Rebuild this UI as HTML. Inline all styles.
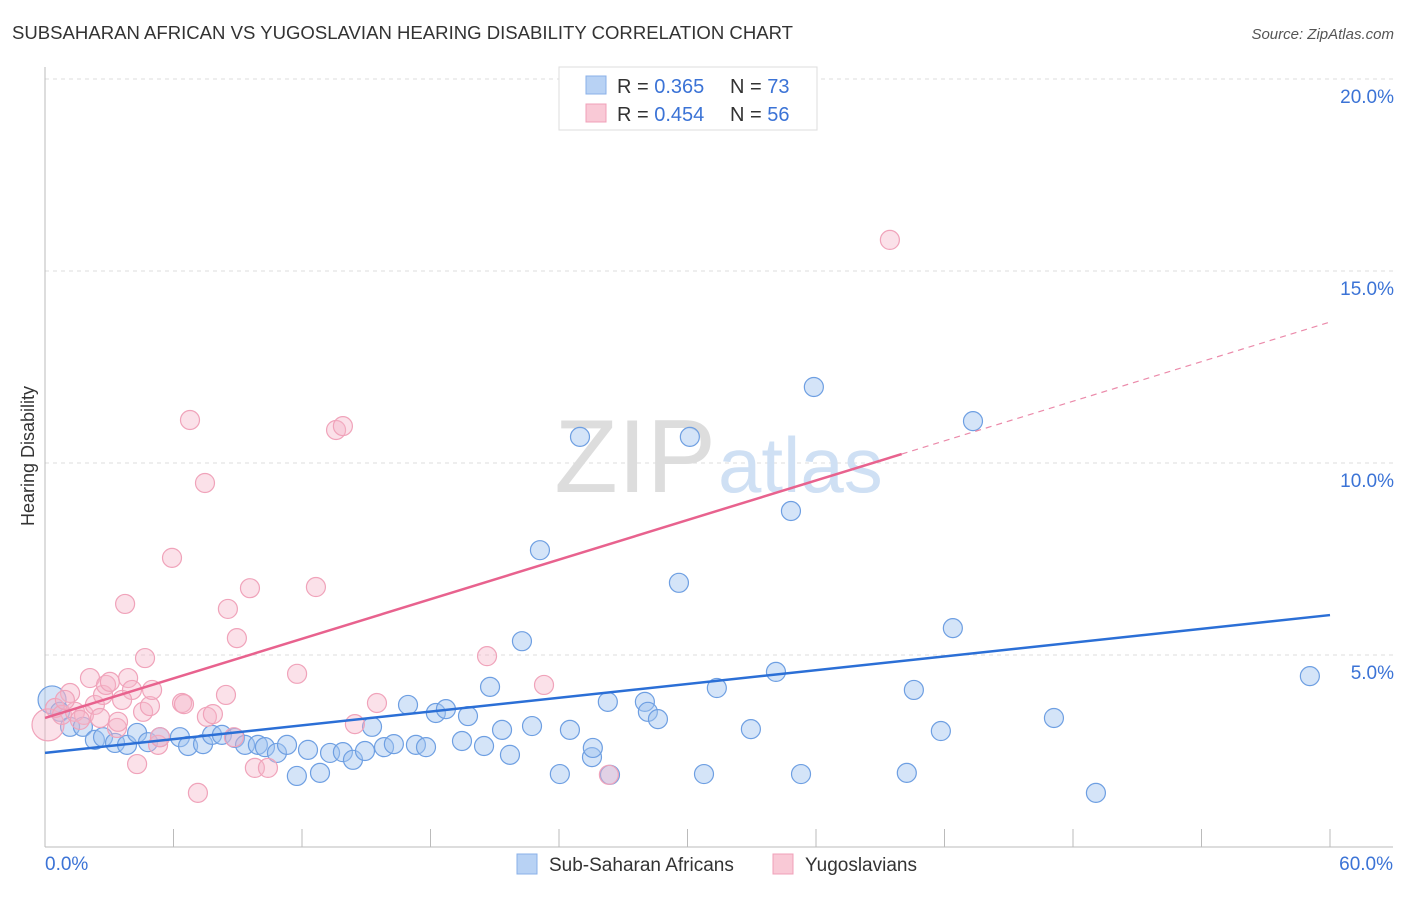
<!DOCTYPE html>
<html><head><meta charset="utf-8">
<style>
body{margin:0;background:#fff;font-family:"Liberation Sans",sans-serif;}
svg text{font-family:"Liberation Sans",sans-serif;}
</style></head>
<body>
<svg id="chart" width="1406" height="892" viewBox="0 0 1406 892" xmlns="http://www.w3.org/2000/svg">
<text x="12" y="39" font-size="18" fill="#333" textLength="781" lengthAdjust="spacingAndGlyphs">SUBSAHARAN AFRICAN VS YUGOSLAVIAN HEARING DISABILITY CORRELATION CHART</text>
<text x="1394" y="39" font-size="15" fill="#555" font-style="italic" text-anchor="end">Source: ZipAtlas.com</text>
<g id="grid"></g>
<text x="716" y="492" font-size="104" fill="#ddd" text-anchor="end" font-family="Liberation Serif,serif">ZIP</text>
<text x="718" y="492" font-size="78" fill="#cfe0f4">atlas</text>
<g id="pts"></g>
<g id="lines"></g>
<text transform="translate(34,456) rotate(-90)" font-size="18" fill="#333" text-anchor="middle">Hearing Disability</text>
<g>
<rect x="559" y="67" width="258" height="63" fill="#fff" stroke="#ddd"/>
<rect x="586" y="76" width="20" height="18" fill="#b8d2f4" stroke="#8ab0e8"/>
<rect x="586" y="104" width="20" height="18" fill="#f9c9d6" stroke="#f0a0b8"/>
<text x="617" y="93" font-size="20" fill="#333">R = <tspan fill="#3b73d6">0.365</tspan><tspan x="730">N = </tspan><tspan fill="#3b73d6">73</tspan></text>
<text x="617" y="121" font-size="20" fill="#333">R = <tspan fill="#3b73d6">0.454</tspan><tspan x="730">N = </tspan><tspan fill="#3b73d6">56</tspan></text>
</g>
<g>
<rect x="517" y="854" width="20" height="20" fill="#b8d2f4" stroke="#8ab0e8"/>
<text x="549" y="871" font-size="19" fill="#333">Sub-Saharan Africans</text>
<rect x="773" y="854" width="20" height="20" fill="#f9c9d6" stroke="#f0a0b8"/>
<text x="805" y="871" font-size="19" fill="#333">Yugoslavians</text>
</g>
</svg>
<script>
const xTicks=[0,6,12,18,24,30,36,42,48,54,60];
const yTicks=[5,10,15,20];
const yTickLabels=["5.0%","10.0%","15.0%","20.0%"];
const blueX=[0.33,0.7,1.17,1.77,2.33,2.71,3.27,3.83,4.30,4.81,5.37,6.30,6.68,7.38,7.80,8.26,8.87,9.34,9.94,10.27,10.83,11.30,11.76,12.28,12.84,13.31,13.91,14.38,14.94,15.27,15.83,16.29,16.95,17.32,17.79,18.25,18.72,19.47,19.75,20.50,20.78,21.34,21.71,22.27,22.74,23.11,24.04,24.51,24.98,25.54,25.58,26.28,26.38,28.01,28.15,28.62,29.60,30.11,30.77,31.37,32.96,34.13,34.83,35.30,35.90,40.24,40.57,41.83,42.39,43.33,47.11,49.07,59.06];
const blueY=[3.83,3.52,3.13,3.13,2.79,2.86,2.71,2.66,2.97,2.73,2.86,2.86,2.63,2.68,2.92,2.92,2.84,2.66,2.66,2.60,2.45,2.66,1.85,2.53,1.93,2.45,2.47,2.27,2.50,3.13,2.60,2.68,3.70,2.66,2.60,3.49,3.59,2.76,3.41,2.63,4.17,3.05,2.40,5.36,3.15,7.73,1.90,3.05,10.68,2.34,2.58,3.78,1.88,3.78,3.52,3.33,6.88,10.68,1.90,4.14,3.07,4.56,8.75,1.90,11.98,1.93,4.09,3.02,5.70,11.09,3.36,1.41,4.45];
const pinkX=[0.14,0.47,0.79,1.17,1.40,1.82,2.10,2.33,2.71,2.85,3.03,3.36,3.41,3.74,3.88,4.06,4.30,4.58,4.67,4.90,5.00,5.28,5.37,5.93,6.40,6.49,6.77,7.14,7.47,7.56,7.84,8.45,8.54,8.82,8.96,9.57,9.80,10.41,11.77,12.65,13.59,13.91,14.47,15.50,20.64,23.30,26.33,39.45,0.93,1.63,2.57,3.60];
const pinkY=[3.18,3.62,3.44,4.01,3.52,3.44,4.40,3.70,3.96,4.22,4.30,3.10,3.26,6.33,4.40,4.09,2.16,3.52,4.92,3.67,4.09,2.66,2.86,7.53,3.75,3.72,11.12,1.41,9.48,3.39,3.46,3.96,6.20,2.86,5.44,6.74,2.06,2.06,4.51,6.77,10.86,10.96,3.20,3.75,4.97,4.22,1.88,15.81,3.83,3.31,3.36,3.83];
const blueTrend=[2.45,6.04];
const pinkTrend=[3.36,13.67];
const pinkSolidEnd=40;

const NS="http://www.w3.org/2000/svg";
const sx=v=>45+v*(1330-45)/60;
const sy=v=>847-v*38.4;
function mk(tag,attrs,parent){const e=document.createElementNS(NS,tag);for(const k in attrs)e.setAttribute(k,attrs[k]);parent.appendChild(e);return e;}
const grid=document.getElementById('grid');
yTicks.forEach((t,i)=>{
  const l=mk('line',{x1:45,x2:1393,y1:sy(t),y2:sy(t),stroke:'#ddd','stroke-dasharray':'4,4'},grid);
  
  
  const tx=mk('text',{x:1394,y:sy(t)+24,'font-size':19,fill:'#3b73d6','text-anchor':'end'},grid);
  tx.textContent=yTickLabels[i];
  
  
});
const ax=mk('line',{x1:45,x2:45,y1:67,y2:847,stroke:'#bbb'},grid);


const bx=mk('line',{x1:45,x2:1393,y1:847,y2:847,stroke:'#bbb'},grid);


xTicks.forEach(t=>{
  const l=mk('line',{x1:sx(t),x2:sx(t),y1:829,y2:847,stroke:'#bbb'},grid);
  
  
});
const xl0=mk('text',{x:45,y:870,'font-size':19,fill:'#3b73d6'},grid);xl0.textContent=xTicks[0].toFixed(1)+'%';


const xl1=mk('text',{x:1393,y:870,'font-size':19,fill:'#3b73d6','text-anchor':'end'},grid);xl1.textContent=xTicks[xTicks.length-1].toFixed(1)+'%';



const pts=document.getElementById('pts');
blueX.forEach((x,i)=>{
  const c=mk('circle',{cx:sx(x),cy:sy(blueY[i]),r:i===0?14:9.5,fill:'rgba(160,195,240,0.45)',stroke:'#6e9fe2','stroke-width':1.2},pts);
  
  
});
pinkX.forEach((x,i)=>{
  const c=mk('circle',{cx:sx(x),cy:sy(pinkY[i]),r:i===0?16:9.5,fill:'rgba(245,180,200,0.4)',stroke:'#f0a3ba','stroke-width':1.2},pts);
  
  
});
const lines=document.getElementById('lines');
const bl=mk('line',{x1:sx(0),y1:sy(blueTrend[0]),x2:sx(60),y2:sy(blueTrend[1]),stroke:'#2b6fd6','stroke-width':2.5},lines);


const pm=pinkTrend[0]+(pinkTrend[1]-pinkTrend[0])*pinkSolidEnd/60;
const pl=mk('line',{x1:sx(0),y1:sy(pinkTrend[0]),x2:sx(pinkSolidEnd),y2:sy(pm),stroke:'#e8628e','stroke-width':2.5},lines);


const pd=mk('line',{x1:sx(pinkSolidEnd),y1:sy(pm),x2:sx(60),y2:sy(pinkTrend[1]),stroke:'#eb8aaa','stroke-width':1.2,'stroke-dasharray':'6,5'},lines);


</script>
</body></html>
